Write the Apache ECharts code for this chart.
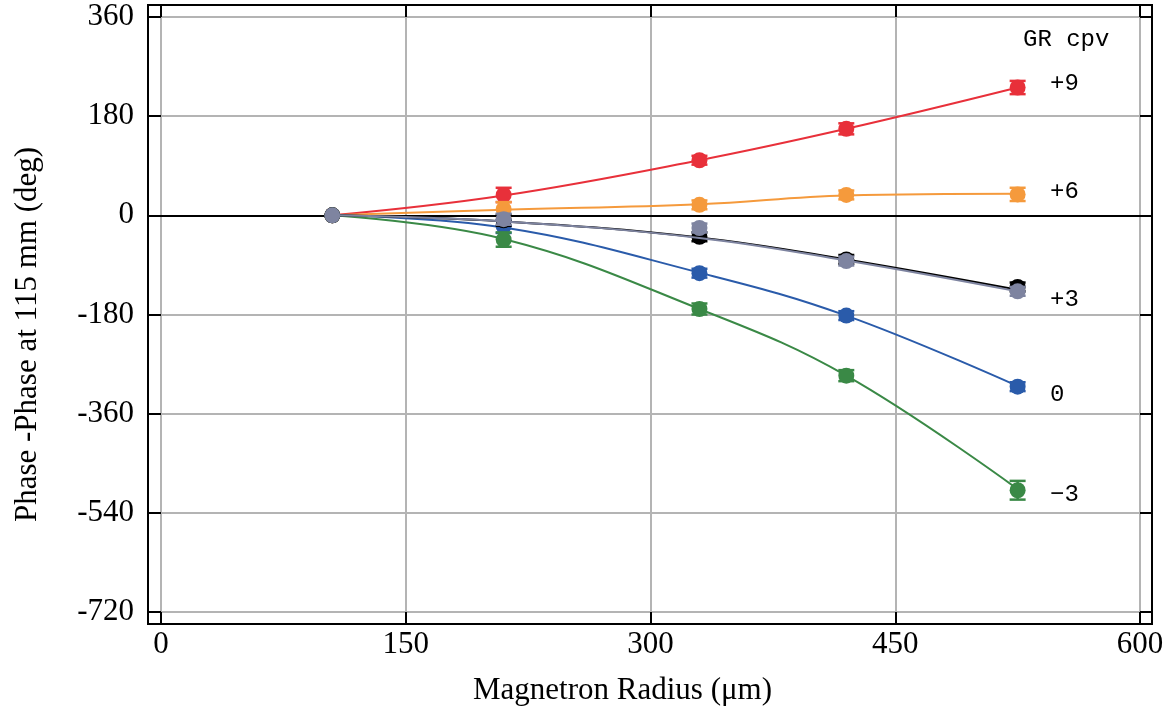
<!DOCTYPE html>
<html>
<head>
<meta charset="utf-8">
<script src="https://cdn.jsdelivr.net/npm/echarts@6/dist/echarts.min.js"></script>
<style>
html,body{margin:0;padding:0;background:#fff;}
#chart{width:1167px;height:713px;}
</style>
</head>
<body>
<div id="chart"></div>
<script>
// ---- data ----
const radius = [105, 210, 330, 420, 525];
const xTicks = { min: 0, max: 600, step: 150 };
const yTicks = { min: -720, max: 360, step: 180 };

// measured points (deg)
const gr9  = [0, 37, 100, 157, 232];
const gr6  = [0, 11, 19, 37, 38];
const gr3a = [0, -9, -39, -80, -130];
const gr3b = [0, -7, -23, -83, -138];
const gr0  = [0, -20, -105, -182, -311];
const grm3 = [0, -44, -170, -291, -499];

// fitted curves (same radii)
const fit9  = [0, 36, 100, 157, 232];
const fit6  = [0, 10, 20, 36, 39];
const fit3a = [0, -11, -40, -80, -135];
const fit3b = [0, -11, -41, -82, -138];
const fit0  = [0, -22, -104, -182, -310];
const fitm3 = [0, -43, -170, -291, -497];

// error bar half-widths (deg)
const err9  = [0, 13, 8, 10, 12];
const err6  = [0, 13, 8, 8, 12];
const err3a = [0, 10, 8, 8, 8];
const err3b = [0, 10, 8, 8, 8];
const err0  = [0, 12, 8, 8, 8];
const errm3 = [0, 13, 10, 10, 17];

const legendTitle = 'GR cpv';
const groupNames = ['+9', '+6', '+3', '0', '\u22123'];

// ---- build ----
const groups = [
  { name: '+9', vals: gr9, fit: fit9, errs: err9, color: '#E8303A' },
  { name: '+6', vals: gr6, fit: fit6, errs: err6, color: '#F59A3C' },
  { name: '0', vals: gr0, fit: fit0, errs: err0, color: '#2A5BAA' },
  { name: '-3', vals: grm3, fit: fitm3, errs: errm3, color: '#3A8946' },
  { name: '+3 (a)', vals: gr3a, fit: fit3a, errs: err3a, color: '#000000' },
  { name: '+3 (b)', vals: gr3b, fit: fit3b, errs: err3b, color: '#7E84A0' }
];

const series = [];
groups.forEach(function (g, i) {
  const pts = radius.map(function (r, k) { return [r, g.vals[k]]; });
  const fitPts = radius.map(function (r, k) { return [r, g.fit[k]]; });
  const ePts = radius.map(function (r, k) { return [r, g.vals[k], g.errs[k]]; });
  series.push({
    type: 'custom',
    name: g.name + ' err',
    xAxisIndex: 0, yAxisIndex: 0,
    z: 3 + i,
    silent: true,
    data: ePts,
    renderItem: function (params, api) {
      const x = api.value(0), y = api.value(1), e = api.value(2);
      if (!e) return null;
      const t = api.coord([x, y + e]);
      const b = api.coord([x, y - e]);
      const hw = 8;
      const st = { stroke: g.color, lineWidth: 2.5 };
      return {
        type: 'group',
        children: [
          { type: 'line', shape: { x1: t[0], y1: t[1], x2: b[0], y2: b[1] }, style: st },
          { type: 'line', shape: { x1: t[0] - hw, y1: t[1], x2: t[0] + hw, y2: t[1] }, style: st },
          { type: 'line', shape: { x1: b[0] - hw, y1: b[1], x2: b[0] + hw, y2: b[1] }, style: st }
        ]
      };
    }
  });
  series.push({
    type: 'scatter',
    name: g.name + ' pts',
    xAxisIndex: 0, yAxisIndex: 0,
    z: 3 + i,
    data: pts,
    symbol: 'circle',
    symbolSize: 16,
    itemStyle: { color: g.color, opacity: 1 },
    silent: true
  });
  series.push({
    type: 'line',
    name: g.name,
    xAxisIndex: 0, yAxisIndex: 0,
    z: 3 + i,
    data: fitPts,
    smooth: 0.4,
    symbol: 'none',
    lineStyle: { color: g.color, width: 2 },
    silent: true
  });
});

// zero line
series.push({
  type: 'line',
  data: [],
  xAxisIndex: 0, yAxisIndex: 0,
  z: 2,
  markLine: {
    silent: true,
    symbol: 'none',
    label: { show: false },
    lineStyle: { color: '#000', width: 2, type: 'solid' },
    data: [{ yAxis: 0 }]
  }
});

const tickStyle = { color: '#000', width: 2 };
const labelFont = { fontFamily: 'Liberation Serif', fontSize: 31, color: '#000' };

const gLeft = 161, gRight = 27, gTop = 17, gBottom = 101;

const labelBaselines = [89, 197, 305, 400, 500];

const graphics = [
  {
    type: 'rect',
    shape: { x: 148, y: 5, width: 1004, height: 619 },
    style: { fill: 'none', stroke: '#000', lineWidth: 2 },
    z: 100
  },
  {
    type: 'text',
    x: 1023, y: 45 - 5,
    style: { text: legendTitle, font: '24px "Liberation Mono"', fill: '#000', verticalAlign: 'middle', align: 'left' },
    z: 100
  }
];
groupNames.forEach(function (n, i) {
  graphics.push({
    type: 'text',
    x: 1050, y: labelBaselines[i] - 5,
    style: { text: n, font: '24px "Liberation Mono"', fill: '#000', verticalAlign: 'middle', align: 'left' },
    z: 100
  });
});

const option = {
  backgroundColor: '#fff',
  animation: false,
  grid: { left: gLeft, right: gRight, top: gTop, bottom: gBottom, containLabel: false },
  xAxis: [
    {
      type: 'value', position: 'bottom',
      min: xTicks.min, max: xTicks.max, interval: xTicks.step,
      axisLine: { show: false, onZero: false },
      axisTick: { show: true, inside: false, length: 13, lineStyle: tickStyle },
      axisLabel: Object.assign({ margin: 17 }, labelFont),
      splitLine: { show: true, lineStyle: { color: '#b4b4b4', width: 2 } },
      name: 'Magnetron Radius (\u03bcm)',
      nameLocation: 'middle', nameGap: 63,
      nameTextStyle: { fontFamily: 'Liberation Serif', fontSize: 31, color: '#000', padding: [0, 56, 0, 0] }
    },
    {
      type: 'value', position: 'top',
      min: xTicks.min, max: xTicks.max, interval: xTicks.step,
      axisLine: { show: false, onZero: false },
      axisTick: { show: true, inside: false, length: 12, lineStyle: tickStyle },
      axisLabel: { show: false },
      splitLine: { show: false }
    }
  ],
  yAxis: [
    {
      type: 'value', position: 'left',
      min: yTicks.min, max: yTicks.max, interval: yTicks.step,
      axisLine: { show: false, onZero: false },
      axisTick: { show: true, inside: false, length: 13, lineStyle: tickStyle },
      axisLabel: Object.assign({ margin: 27 }, labelFont),
      splitLine: { show: true, lineStyle: { color: '#b4b4b4', width: 2 } },
      name: 'Phase -Phase at 115 mm (deg)',
      nameLocation: 'middle', nameGap: 118,
      nameTextStyle: { fontFamily: 'Liberation Serif', fontSize: 31, color: '#000', padding: [0, 40, 0, 0] }
    },
    {
      type: 'value', position: 'right',
      min: yTicks.min, max: yTicks.max, interval: yTicks.step,
      axisLine: { show: false, onZero: false },
      axisTick: { show: true, inside: false, length: 12, lineStyle: tickStyle },
      axisLabel: { show: false },
      splitLine: { show: false }
    }
  ],
  graphic: graphics,
  series: series
};

const chart = echarts.init(document.getElementById('chart'), null, { renderer: 'canvas' });
chart.setOption(option);
</script>
</body>
</html>
